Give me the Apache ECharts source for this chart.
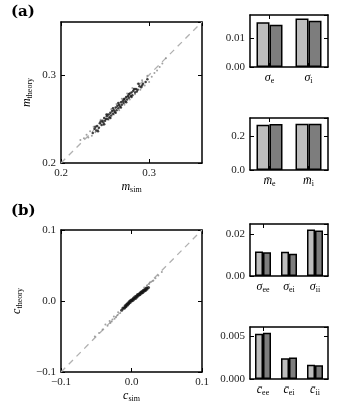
<!DOCTYPE html>
<html>
<head>
<meta charset="utf-8">
<script src="https://cdn.jsdelivr.net/npm/echarts@6/dist/echarts.min.js"></script>
<style>
html, body { margin: 0; padding: 0; background: #fff; }
#chart { width: 338px; height: 417px; }
</style>
</head>
<body>
<div id="chart"></div>
<script>
// ---- data ----
// panel (a) scatter: m_sim vs m_theory
const scatterA_dark = [
  [0.236,0.234],[0.238,0.239],[0.240,0.237],[0.241,0.242],[0.243,0.240],[0.244,0.245],[0.246,0.243],
  [0.247,0.248],[0.248,0.246],[0.249,0.251],[0.250,0.248],[0.251,0.250],[0.252,0.253],[0.253,0.250],
  [0.254,0.255],[0.255,0.252],[0.256,0.257],[0.257,0.254],[0.258,0.259],[0.259,0.256],[0.260,0.260],
  [0.261,0.258],[0.262,0.263],[0.263,0.260],[0.264,0.265],[0.265,0.262],[0.266,0.266],[0.267,0.264],
  [0.268,0.269],[0.269,0.266],[0.270,0.270],[0.271,0.268],[0.272,0.273],[0.273,0.270],[0.274,0.275],
  [0.275,0.272],[0.276,0.276],[0.277,0.274],[0.278,0.279],[0.279,0.276],[0.280,0.280],[0.281,0.277],
  [0.282,0.282],[0.284,0.280],[0.285,0.284],[0.287,0.283],[0.289,0.287],[0.291,0.286],[0.293,0.290],
  [0.296,0.292],[0.298,0.295],
  [0.239,0.241],[0.242,0.236],[0.245,0.247],[0.249,0.244],[0.252,0.255],[0.256,0.251],[0.259,0.262],
  [0.262,0.257],[0.265,0.268],[0.268,0.263],[0.271,0.272],[0.274,0.269],[0.277,0.278],[0.280,0.275],
  [0.283,0.284],[0.286,0.281],[0.288,0.290],[0.292,0.288]
];
const scatterA_light = [
  [0.222,0.226],[0.226,0.228],[0.229,0.232],[0.231,0.229],[0.233,0.236],[0.235,0.231],[0.237,0.241],
  [0.239,0.235],[0.242,0.238],[0.245,0.249],[0.248,0.243],[0.251,0.255],[0.254,0.249],[0.257,0.261],
  [0.260,0.255],[0.263,0.267],[0.266,0.260],[0.269,0.273],[0.272,0.266],[0.275,0.279],[0.278,0.272],
  [0.281,0.285],[0.284,0.278],[0.287,0.290],[0.290,0.283],[0.292,0.294],[0.295,0.288],[0.298,0.299],
  [0.300,0.292],[0.303,0.298],[0.306,0.302],[0.309,0.305],[0.312,0.309],[0.315,0.313],[0.319,0.319]
];
// panel (b) scatter: c_sim vs c_theory
const scatterB_dark = [
  [-0.014,-0.013],[-0.012,-0.010],[-0.010,-0.010],[-0.009,-0.007],[-0.008,-0.008],[-0.007,-0.005],
  [-0.006,-0.006],[-0.005,-0.003],[-0.004,-0.004],[-0.003,-0.001],[-0.002,-0.002],[-0.001,0.001],
  [0.000,0.000],[0.001,0.002],[0.002,0.001],[0.003,0.004],[0.004,0.003],[0.005,0.006],[0.006,0.004],
  [0.007,0.007],[0.008,0.006],[0.009,0.009],[0.010,0.008],[0.011,0.010],[0.012,0.009],[0.013,0.012],
  [0.014,0.011],[0.015,0.013],[0.016,0.012],[0.017,0.015],[0.018,0.014],[0.019,0.016],[0.020,0.015],
  [0.021,0.018],[0.022,0.017],[0.024,0.019]
];
const scatterB_light = [
  [-0.052,-0.050],[-0.046,-0.045],[-0.041,-0.040],[-0.037,-0.033],[-0.034,-0.035],[-0.031,-0.028],
  [-0.028,-0.029],[-0.025,-0.022],[-0.022,-0.023],[-0.019,-0.016],[-0.016,-0.017],[-0.013,-0.011],
  [-0.006,-0.004],[0.002,0.003],[0.008,0.009],[0.014,0.014],[0.018,0.019],[0.022,0.022],
  [0.025,0.024],[0.028,0.027],[0.031,0.029],[0.034,0.032],[0.038,0.036],[0.043,0.041],
  [-0.030,-0.031],[-0.027,-0.026],[-0.024,-0.025],[-0.020,-0.020],[0.026,0.026],[0.030,0.028]
];
const diagA = [[0.2,0.2],[0.36,0.36]];
const diagB = [[-0.1,-0.1],[0.1,0.1]];

// bar panels
const sigmaA_cats = ['{i|σ}{s|e}', '{i|σ}{s|i}'];
const sigmaA_sim = [0.0155, 0.0168];
const sigmaA_th  = [0.0146, 0.0160];

const meanA_cats = ['{i|m\u0304}{s|e}', '{i|m\u0304}{s|i}'];
const meanA_sim = [0.270, 0.276];
const meanA_th  = [0.274, 0.276];

const sigmaB_cats = ['{i|σ}{s|ee}', '{i|σ}{s|ei}', '{i|σ}{s|ii}'];
const sigmaB_sim = [0.0118, 0.0117, 0.0224];
const sigmaB_th  = [0.0114, 0.0107, 0.0219];

const meanB_cats = ['{i|c\u0304}{s|ee}', '{i|c\u0304}{s|ei}', '{i|c\u0304}{s|ii}'];
const meanB_sim = [0.00531, 0.00244, 0.00166];
const meanB_th  = [0.00543, 0.00252, 0.00160];

// ---- styling ----
const SERIF = '"Liberation Serif", "DejaVu Serif", serif';
const LIGHT = '#bdbdbd', DARK = '#7d7d7d';
const rich = {
  i: { fontFamily: SERIF, fontStyle: 'italic', fontSize: 12, color: '#000' },
  s: { fontFamily: SERIF, fontSize: 8, color: '#000', padding: [6, 0, 0, 0] }
};
const minus = v => String(v).replace('-', '\u2212');

const grids = [
  { left: 61, top: 22, width: 141, height: 141 },   // a scatter
  { left: 250, top: 15, width: 78, height: 52 },    // a sigma
  { left: 250, top: 118, width: 78, height: 52 },   // a mean
  { left: 61, top: 230, width: 141, height: 142 },  // b scatter
  { left: 250, top: 224, width: 78, height: 52 },   // b sigma
  { left: 250, top: 327, width: 78, height: 52 }    // b mean
];

const xAxes = [], yAxes = [];
function lineStyle() { return { show: true, onZero: false, lineStyle: { color: '#000', width: 1.5 } }; }
function tick() { return { show: true, inside: true, length: 4, lineStyle: { color: '#000', width: 1 } }; }

function valueAxisPair(list, gi, isX, min, max, interval, fmt, name, nameGap) {
  const base = {
    type: 'value', gridIndex: gi, min: min, max: max, interval: interval,
    splitLine: { show: false }, axisLine: lineStyle(), axisTick: tick()
  };
  list.push(Object.assign({}, base, {
    position: isX ? 'bottom' : 'left',
    axisLabel: {
      show: true, fontFamily: SERIF, fontSize: 11, color: '#222', margin: 5,
      showMaxLabel: Math.abs((max - min) / interval - Math.round((max - min) / interval)) < 1e-6,
      formatter: v => minus(v.toFixed(fmt))
    },
    name: name || '', nameLocation: 'middle', nameGap: nameGap || 20,
    nameRotate: isX ? 0 : 90,
    nameTextStyle: { rich: rich }
  }));
  list.push(Object.assign({}, base, {
    position: isX ? 'top' : 'right', axisLabel: { show: false }
  }));
}
function catAxisPair(list, gi, cats) {
  const base = {
    type: 'category', gridIndex: gi, data: cats,
    axisLine: lineStyle(), axisTick: Object.assign(tick(), { alignWithLabel: true }),
    splitLine: { show: false }
  };
  list.push(Object.assign({}, base, {
    position: 'bottom',
    axisLabel: { show: true, interval: 0, margin: 4, formatter: v => v, rich: rich }
  }));
  list.push(Object.assign({}, base, { position: 'top', axisLabel: { show: false } }));
}

// a scatter
valueAxisPair(xAxes, 0, true, 0.2, 0.36, 0.1, 1, '{i|m}{s|sim}', 17);
valueAxisPair(yAxes, 0, false, 0.2, 0.36, 0.1, 1, '{i|m}{s|theory}', 27);
// a sigma
catAxisPair(xAxes, 1, sigmaA_cats);
valueAxisPair(yAxes, 1, false, 0, 0.018, 0.01, 2);
// a mean
catAxisPair(xAxes, 2, meanA_cats);
valueAxisPair(yAxes, 2, false, 0, 0.31, 0.2, 1);
// b scatter
valueAxisPair(xAxes, 3, true, -0.1, 0.1, 0.1, 1, '{i|c}{s|sim}', 17);
valueAxisPair(yAxes, 3, false, -0.1, 0.1, 0.1, 1, '{i|c}{s|theory}', 37);
// b sigma
catAxisPair(xAxes, 4, sigmaB_cats);
valueAxisPair(yAxes, 4, false, 0, 0.025, 0.02, 2);
// b mean
catAxisPair(xAxes, 5, meanB_cats);
valueAxisPair(yAxes, 5, false, 0, 0.0061, 0.005, 3);

const series = [];
function scatterPanel(gi, diag, light, dark, darkSize) {
  series.push({ type: 'line', xAxisIndex: 2 * gi, yAxisIndex: 2 * gi, data: diag, symbol: 'none',
    silent: true, z: 1, lineStyle: { color: '#b0b0b0', width: 1.3, type: [6, 5] } });
  series.push({ type: 'scatter', xAxisIndex: 2 * gi, yAxisIndex: 2 * gi, data: light, symbolSize: 2,
    itemStyle: { color: '#8a8a8a' }, z: 2 });
  series.push({ type: 'scatter', xAxisIndex: 2 * gi, yAxisIndex: 2 * gi, data: dark, symbolSize: darkSize,
    itemStyle: { color: '#111' }, z: 3 });
}
function barPanel(gi, sim, th, bw) {
  [[sim, LIGHT], [th, DARK]].forEach(([d, c]) => {
    series.push({ type: 'bar', xAxisIndex: 2 * gi, yAxisIndex: 2 * gi, data: d, barWidth: bw, barGap: '0%',
      itemStyle: { color: c, borderColor: '#000', borderWidth: 1.5 } });
  });
}
scatterPanel(0, diagA, scatterA_light, scatterA_dark, 2.5);
barPanel(1, sigmaA_sim, sigmaA_th, 13);
barPanel(2, meanA_sim, meanA_th, 13);
scatterPanel(3, diagB, scatterB_light, scatterB_dark, 3.2);
barPanel(4, sigmaB_sim, sigmaB_th, 8);
barPanel(5, meanB_sim, meanB_th, 8);

const chart = echarts.init(document.getElementById('chart'), null, { renderer: 'canvas' });
chart.setOption({
  animation: false,
  backgroundColor: '#fff',
  grid: grids,
  xAxis: xAxes,
  yAxis: yAxes,
  series: series,
  graphic: [
    { type: 'text', left: 11, top: 5, style: { text: '(a)', font: 'bold 15px "DejaVu Serif", serif', fill: '#000' } },
    { type: 'text', left: 11, top: 204, style: { text: '(b)', font: 'bold 15px "DejaVu Serif", serif', fill: '#000' } }
  ]
});
</script>
</body>
</html>
